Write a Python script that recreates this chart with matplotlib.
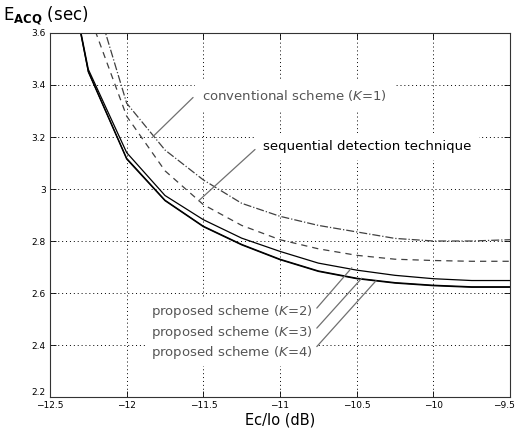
import matplotlib
matplotlib.use("Agg")
import matplotlib.pyplot as plt
from matplotlib.ticker import FuncFormatter
from matplotlib.transforms import ScaledTranslation

# Ec/Io sample points (dB)
ec_io = [-12.5, -12.25, -12.0, -11.75, -11.5, -11.25, -11.0,
         -10.75, -10.5, -10.25, -10.0, -9.75, -9.5]

# mean acquisition time (sec)
conventional = [4.30, 3.82, 3.33, 3.15, 3.035, 2.945, 2.895,
                2.86, 2.835, 2.81, 2.80, 2.80, 2.805]
sequential = [4.20, 3.68, 3.28, 3.07, 2.94, 2.86, 2.805,
              2.77, 2.745, 2.73, 2.725, 2.722, 2.722]
proposed_k2 = [4.20, 3.46, 3.14, 2.975, 2.882, 2.811, 2.76,
               2.715, 2.688, 2.668, 2.655, 2.648, 2.648]
proposed_k3 = [4.20, 3.452, 3.118, 2.957, 2.857, 2.787, 2.73,
               2.685, 2.657, 2.64, 2.63, 2.624, 2.624]
proposed_k4 = [4.20, 3.45, 3.115, 2.955, 2.855, 2.785, 2.728,
               2.683, 2.655, 2.638, 2.628, 2.622, 2.622]

x_ticks = [-12.5, -12, -11.5, -11, -10.5, -10, -9.5]
y_ticks = [2.2, 2.4, 2.6, 2.8, 3.0, 3.2, 3.4, 3.6]

fig = plt.figure(figsize=(5.17, 4.33), dpi=100)
ax = fig.add_axes([0.0967, 0.0831, 0.8898, 0.8407])

ax.plot(ec_io, conventional, color="#404040", lw=0.9, ls="-.")
ax.plot(ec_io, sequential, color="#404040", lw=0.9, ls=(0, (5, 4)))
ax.plot(ec_io, proposed_k2, color="black", lw=0.9)
ax.plot(ec_io, proposed_k3, color="black", lw=0.9)
ax.plot(ec_io, proposed_k4, color="black", lw=0.9)

ax.set_xlim(-12.5, -9.5)
ax.set_ylim(2.2, 3.6)
ax.set_xticks(x_ticks)
ax.set_yticks(y_ticks)
ax.xaxis.set_major_formatter(FuncFormatter(lambda v, p: ("%g" % v).replace("-", "\u2212")))
ax.yaxis.set_major_formatter(FuncFormatter(lambda v, p: "%g" % v))
ax.tick_params(direction="in", top=True, right=True, length=4, width=0.6,
               labelsize=6.5, pad=3)
ax.grid(True, ls=(0, (1, 3)), color="black", lw=0.7)
for s in ax.spines.values():
    s.set_linewidth(0.8)
    s.set_color("#333333")

# MATLAB-like corners: 2.2 sits above the axis line, -9.5 pushed to the edge
fig.canvas.draw()
ax.get_yticklabels()[0].set_va("bottom")
last = ax.get_xticklabels()[-1]
last.set_ha("right")
last.set_transform(last.get_transform() + ScaledTranslation(0.05, 0, fig.dpi_scale_trans))

box = dict(facecolor="white", edgecolor="none", pad=5)
lead = dict(arrowstyle="-", color="#707070", lw=0.9, shrinkA=0, shrinkB=0)

# annotations
ax.text(-11.508, 3.36, r"conventional scheme ($\mathit{K}$=1)", color="#555555",
        fontsize=9.5, va="center", ha="left", bbox=box, zorder=5)
ax.annotate("", xy=(-11.828, 3.202), xytext=(-11.567, 3.352), arrowprops=lead)

ax.text(-11.11, 3.165, "sequential detection technique", color="black",
        fontsize=9.5, va="center", ha="left", bbox=box, zorder=5)
ax.annotate("", xy=(-11.53, 2.955), xytext=(-11.163, 3.152), arrowprops=lead)

labels = [r"proposed scheme ($\mathit{K}$=2)",
          r"proposed scheme ($\mathit{K}$=3)",
          r"proposed scheme ($\mathit{K}$=4)"]
label_y = [2.529, 2.447, 2.370]
lead_start = [2.542, 2.465, 2.394]
lead_end = [(-10.532, 2.697), (-10.467, 2.657), (-10.374, 2.647)]
for lab, ly, sy, end in zip(labels, label_y, lead_start, lead_end):
    ax.text(-10.79, ly, lab, color="#555555", fontsize=9.5, va="center",
            ha="right", bbox=dict(facecolor="white", edgecolor="none", pad=3), zorder=5)
    ax.annotate("", xy=end, xytext=(-10.76, sy), arrowprops=lead)

fig.text(0.006, 0.966, r"E$_{\mathbf{ACQ}}$ (sec)", fontsize=12, va="center", ha="left")
ax.set_xlabel("Ec/Io (dB)", fontsize=10.5, labelpad=2)

fig.savefig("out.png", dpi=100)
